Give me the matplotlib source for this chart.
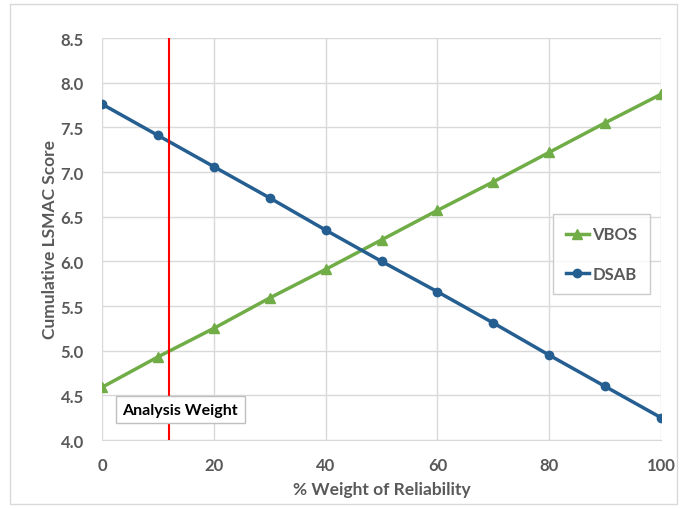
import matplotlib
matplotlib.use("Agg")
import matplotlib.pyplot as plt
from matplotlib.patches import Rectangle

# Weight of reliability (%) and cumulative LSMAC scores
weights = [0, 10, 20, 30, 40, 50, 60, 70, 80, 90, 100]
vbos = [4.59, 4.93, 5.25, 5.59, 5.91, 6.24, 6.57, 6.89, 7.22, 7.55, 7.87]
dsab = [7.76, 7.41, 7.06, 6.71, 6.35, 6.00, 5.66, 5.31, 4.95, 4.60, 4.25]
analysis_weight = 12
x_ticks = [0, 20, 40, 60, 80, 100]
y_ticks = [4.0, 4.5, 5.0, 5.5, 6.0, 6.5, 7.0, 7.5, 8.0, 8.5]

plt.rcParams['font.family'] = ['Lato', 'DejaVu Sans']
text_gray = '#595959'
green = '#70AD47'
blue = '#255E91'

fig = plt.figure(figsize=(6.87, 5.10), dpi=100)
fig.patches.append(Rectangle((10 / 687, 5 / 510), 667 / 687, 500 / 510,
                             transform=fig.transFigure, fill=False,
                             edgecolor='#D9D9D9', linewidth=1))
ax = fig.add_axes([102 / 687, 1 - 441 / 510, 559 / 687, 402 / 510])

ax.plot(weights, vbos, color=green, linewidth=2.5, marker='^', markersize=7,
        label='VBOS', zorder=3)
ax.plot(weights, dsab, color=blue, linewidth=2.5, marker='o', markersize=6,
        label='DSAB', zorder=3)
ax.axvline(analysis_weight, color='#FF0000', linewidth=1.5, zorder=4)

ax.set_xlim(0, 100)
ax.set_ylim(4.0, 8.5)
ax.set_xticks(x_ticks)
ax.set_yticks(y_ticks)
ax.set_yticklabels([f'{v:.1f}' for v in y_ticks])
ax.grid(True, color='#D9D9D9', linewidth=1)
ax.set_axisbelow(True)
for side in ['top', 'right', 'left']:
    ax.spines[side].set_visible(False)
ax.spines['bottom'].set_color('#D9D9D9')
ax.tick_params(axis='y', length=0, labelsize=12, labelcolor=text_gray, pad=13)
ax.tick_params(axis='x', length=0, labelsize=12, labelcolor=text_gray, pad=12)
for lbl in ax.get_xticklabels() + ax.get_yticklabels():
    lbl.set_fontweight('bold')

ax.set_xlabel('% Weight of Reliability', fontsize=12.5, fontweight='bold',
              color=text_gray, labelpad=6)
ax.set_ylabel('Cumulative LSMAC Score', fontsize=12.5, fontweight='bold',
              color=text_gray, labelpad=2)

ax.text(14, 4.34, 'Analysis Weight', fontsize=11.5, fontweight='bold',
        color='black', ha='center', va='center', zorder=5,
        bbox=dict(boxstyle='square,pad=0.42', facecolor='white',
                  edgecolor='#BFBFBF', linewidth=1))

leg = ax.legend(loc='upper left', bbox_to_anchor=((553 - 102) / 559, 1 - (215 - 39) / 402),
                frameon=True, fancybox=False, edgecolor='#BFBFBF',
                labelspacing=1.4, handlelength=1.4, handletextpad=0.2,
                borderpad=0.75, borderaxespad=0,
                prop={'weight': 'bold', 'size': 12})
leg.get_frame().set_linewidth(1)
for t in leg.get_texts():
    t.set_color(text_gray)

fig.savefig('out.png', dpi=100, facecolor='white')
